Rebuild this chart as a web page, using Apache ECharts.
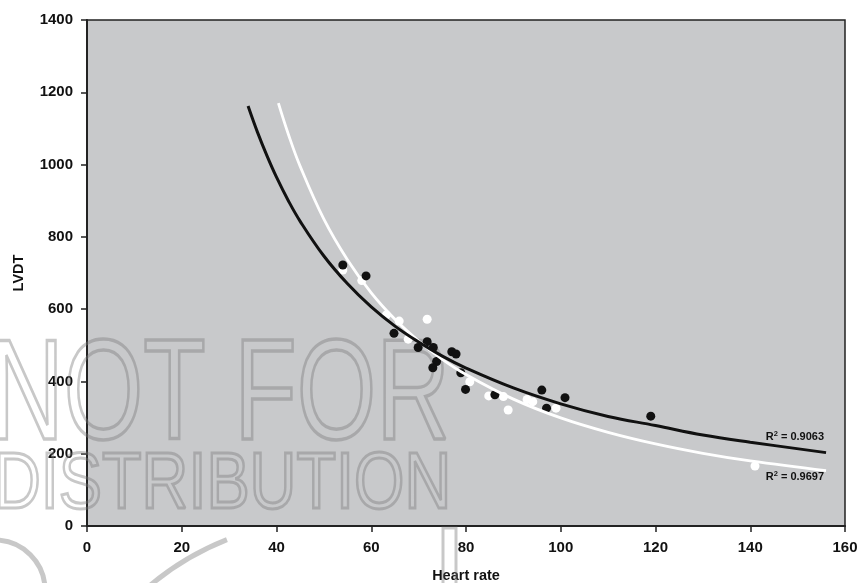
<!DOCTYPE html>
<html>
<head>
<meta charset="utf-8">
<script src="https://cdn.jsdelivr.net/npm/echarts@6/dist/echarts.min.js"></script>
<style>
html,body{margin:0;padding:0;background:#fff;}
#chart{width:859px;height:583px;}
</style>
</head>
<body>
<div id="chart"></div>
<script>
// Scatter data (Heart rate, LVDT)
const blackX = [54.0, 58.9, 64.8, 69.9, 71.8, 73.1, 73.8, 73.0, 77.0, 77.9, 78.9, 79.9, 86.1, 96.0, 97.0, 100.9, 119.0];
const blackY = [722, 692, 533, 494, 510, 494, 455, 438, 482, 476, 424, 378, 363, 376, 326, 355, 304];
const whiteX = [54.0, 58.0, 63.2, 65.9, 67.8, 71.8, 80.8, 84.8, 87.9, 88.9, 92.9, 94.1, 99.0, 141.0];
const whiteY = [708, 679, 584, 567, 517, 572, 399, 360, 358, 321, 350, 344, 326, 166];

// Trend curves
const blackCurveX = [34, 36, 38, 40, 42.5, 45, 50, 55, 60, 65, 70, 75, 80, 90, 100, 110, 120, 130, 140, 156];
const blackCurveY = [1162, 1089, 1024, 965, 900, 843, 747, 670, 606, 553, 509, 470, 437, 382, 338, 303, 278, 252, 232, 203];
const whiteCurveX = [40.4, 42.5, 45, 50, 55, 60, 65, 70, 75, 80, 90, 100, 110, 120, 130, 140, 156];
const whiteCurveY = [1170, 1084, 995, 849, 736, 645, 572, 512, 461, 419, 351, 299, 259, 227, 201, 180, 153];

const r2Black = '0.9063';
const r2White = '0.9697';

const xTicks = { min: 0, max: 160, interval: 20 };
const yTicks = { min: 0, max: 1400, interval: 200 };

const zip = (xs, ys) => xs.map((x, i) => [x, ys[i]]);

const chart = echarts.init(document.getElementById('chart'), null, { renderer: 'canvas' });
const fontFam = '"Liberation Sans", Arial, Helvetica, sans-serif';

const option = {
  animation: false,
  backgroundColor: '#ffffff',
  grid: {
    left: 87, top: 20, right: 14, bottom: 57,
    containLabel: false, outerBoundsMode: 'none',
    show: true, backgroundColor: '#c8c9cb', borderColor: '#222', borderWidth: 1.5
  },
  xAxis: {
    type: 'value', min: xTicks.min, max: xTicks.max, interval: xTicks.interval,
    name: 'Heart rate', nameLocation: 'middle', nameGap: 42,
    nameTextStyle: { fontFamily: fontFam, fontWeight: 'bold', fontSize: 14.5, color: '#111' },
    axisLine: { show: true, lineStyle: { color: '#222', width: 2 } },
    axisTick: { show: true, inside: false, length: 6, lineStyle: { color: '#222', width: 1.5 } },
    axisLabel: { fontFamily: fontFam, fontWeight: 'bold', fontSize: 15, color: '#111', margin: 14, formatter: v => String(v) },
    splitLine: { show: false }
  },
  yAxis: {
    type: 'value', min: yTicks.min, max: yTicks.max, interval: yTicks.interval,
    name: 'LVDT', nameLocation: 'middle', nameGap: 61,
    nameTextStyle: { fontFamily: fontFam, fontWeight: 'bold', fontSize: 14.5, color: '#111' },
    axisLine: { show: true, lineStyle: { color: '#222', width: 2 } },
    axisTick: { show: true, inside: false, length: 6, lineStyle: { color: '#222', width: 1.5 } },
    axisLabel: { fontFamily: fontFam, fontWeight: 'bold', fontSize: 15, color: '#111', margin: 14, formatter: v => String(v) },
    splitLine: { show: false }
  },
  series: [
    {
      type: 'scatter', name: 'white', data: zip(whiteX, whiteY), symbolSize: 9,
      itemStyle: { color: '#ffffff', opacity: 1 }, z: 3
    },
    {
      type: 'scatter', name: 'black', data: zip(blackX, blackY), symbolSize: 9,
      itemStyle: { color: '#111111', opacity: 1 }, z: 4
    },
    {
      type: 'line', name: 'white fit', data: zip(whiteCurveX, whiteCurveY), smooth: 0.4,
      symbol: 'none', lineStyle: { color: '#ffffff', width: 2.8 }, z: 5
    },
    {
      type: 'line', name: 'black fit', data: zip(blackCurveX, blackCurveY), smooth: 0.4,
      symbol: 'none', lineStyle: { color: '#111111', width: 3 }, z: 6
    }
  ]
};
chart.setOption(option);

const endB = chart.convertToPixel({ gridIndex: 0 }, [blackCurveX[blackCurveX.length - 1], blackCurveY[blackCurveY.length - 1]]);
const endW = chart.convertToPixel({ gridIndex: 0 }, [whiteCurveX[whiteCurveX.length - 1], whiteCurveY[whiteCurveY.length - 1]]);

const wmStroke = 'rgba(125,125,125,0.42)';
const r2Rich = {
  b: { fontFamily: fontFam, fontWeight: 'bold', fontSize: 11, fill: '#111' },
  s: { fontFamily: fontFam, fontWeight: 'bold', fontSize: 7.5, fill: '#111', verticalAlign: 'top', padding: [0, 0, 6, 0] }
};

chart.setOption({
  graphic: [
    {
      type: 'text', x: endB[0] - 2, y: endB[1] - 16, z: 50,
      style: { text: '{b|R}{s|2}{b| = ' + r2Black + '}', rich: r2Rich, align: 'right', verticalAlign: 'middle' }
    },
    {
      type: 'text', x: endW[0] - 2, y: endW[1] + 6, z: 50,
      style: { text: '{b|R}{s|2}{b| = ' + r2White + '}', rich: r2Rich, align: 'right', verticalAlign: 'middle' }
    },
    {
      type: 'text', x: -10, y: 400, scaleX: 0.72, z: 1, silent: true,
      style: { text: 'NOT FOR', fontFamily: fontFam, fontSize: 142, fill: 'none', stroke: wmStroke, lineWidth: 3.5, verticalAlign: 'middle', align: 'left' }
    },
    {
      type: 'text', x: -6, y: 486, scaleX: 0.81, z: 1, silent: true,
      style: { text: 'DISTRIBUTION', fontFamily: fontFam, fontSize: 80, fill: 'none', stroke: wmStroke, lineWidth: 3, verticalAlign: 'middle', align: 'left' }
    },
    {
      type: 'arc', z: 1, silent: true,
      shape: { cx: -5, cy: 590, r: 50, startAngle: -Math.PI / 2, endAngle: 0 },
      style: { stroke: wmStroke, lineWidth: 5, fill: 'none' }
    },
    {
      type: 'arc', z: 1, silent: true,
      shape: { cx: 330, cy: 800, r: 280, startAngle: -Math.PI * 0.87, endAngle: -Math.PI * 0.62 },
      style: { stroke: wmStroke, lineWidth: 5, fill: 'none' }
    },
    {
      type: 'rect', z: 1, silent: true,
      shape: { x: 443, y: 528, width: 13, height: 70 },
      style: { stroke: wmStroke, lineWidth: 3, fill: 'none' }
    }
  ]
});
</script>
</body>
</html>
